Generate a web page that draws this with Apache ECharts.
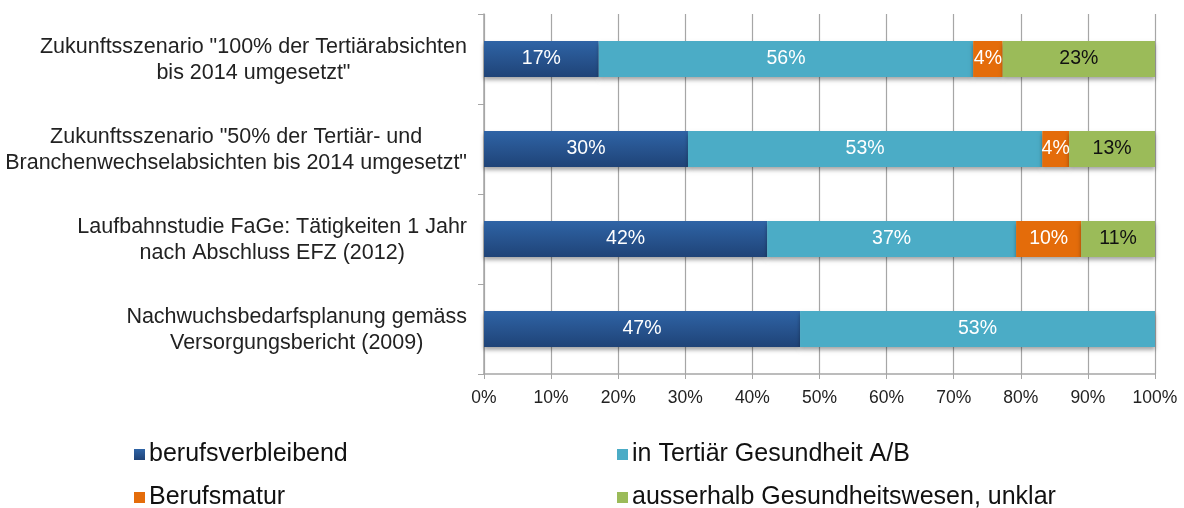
<!DOCTYPE html>
<html>
<head>
<meta charset="utf-8">
<script src="https://cdn.jsdelivr.net/npm/echarts@6/dist/echarts.min.js"></script>
<style>
  html, body { margin: 0; padding: 0; background: #fff; }
  #main { width: 1184px; height: 508px; }
</style>
</head>
<body>
<div id="main"></div>
<script>
// categories, top to bottom
var categories = [
    'Zukunftsszenario "100% der Tertiärabsichten\nbis 2014 umgesetzt"',
    'Zukunftsszenario "50% der Tertiär- und\nBranchenwechselabsichten bis 2014 umgesetzt"',
    'Laufbahnstudie FaGe: Tätigkeiten 1 Jahr\nnach Abschluss EFZ (2012)',
    'Nachwuchsbedarfsplanung gemäss\nVersorgungsbericht (2009)'
];
var seriesNames = ['berufsverbleibend', 'in Tertiär Gesundheit A/B', 'Berufsmatur', 'ausserhalb Gesundheitswesen, unklar'];
var berufsverbleibend = [17.1, 30.4, 42.2, 47.1];
var tertiaer = [55.8, 52.8, 37.1, 52.9];
var berufsmatur = [4.4, 4.0, 9.7, null];
var ausserhalb = [22.7, 12.8, 11.0, null];
var xTicks = [0, 10, 20, 30, 40, 50, 60, 70, 80, 90, 100];

var fontFam = '"Liberation Sans", Arial, sans-serif';
var barShadow = {shadowBlur: 4, shadowOffsetY: 3, shadowColor: 'rgba(0,0,0,0.35)'};

function makeSeries(name, data, color, labelColor) {
    return {
        name: name,
        type: 'bar',
        stack: 'total',
        barWidth: '40%',
        data: data,
        itemStyle: Object.assign({color: color}, barShadow),
        label: {
            show: true,
            position: 'inside',
            color: labelColor,
            fontSize: 19.5,
            fontFamily: fontFam,
            formatter: function (p) {
                return p.value ? Math.round(p.value) + '%' : '';
            }
        }
    };
}

var blueGrad = new echarts.graphic.LinearGradient(0, 0, 0, 1, [
    {offset: 0, color: '#2f64a6'},
    {offset: 1, color: '#1f4377'}
]);

function legendAt(name, left, top) {
    return {
        data: [name],
        left: left,
        top: top,
        icon: 'rect',
        itemWidth: 11,
        itemHeight: 11,
        itemGap: 0,
        textStyle: {fontSize: 25, fontFamily: fontFam, color: '#111', padding: [0, 0, 0, -1]}
    };
}

let myChart = echarts.init(document.getElementById('main'));
myChart.setOption({
    animation: false,
    legend: [
        legendAt(seriesNames[0], 129, 437),
        legendAt(seriesNames[1], 612, 437),
        legendAt(seriesNames[2], 129, 480),
        legendAt(seriesNames[3], 612, 480)
    ],
    grid: {left: 484, right: 29, top: 14, bottom: 134},
    xAxis: {
        type: 'value',
        min: 0,
        max: 100,
        interval: 10,
        axisLine: {show: true, lineStyle: {color: '#a6a6a6', width: 1.5}},
        axisTick: {show: true, length: 5, lineStyle: {color: '#a6a6a6'}},
        splitLine: {show: true, lineStyle: {color: '#a6a6a6', width: 1.2}},
        axisLabel: {
            formatter: '{value}%',
            fontSize: 17.5,
            fontFamily: fontFam,
            color: '#222',
            margin: 15
        }
    },
    yAxis: {
        type: 'category',
        inverse: true,
        data: categories,
        axisLine: {show: true, lineStyle: {color: '#a6a6a6', width: 1.5}},
        axisTick: {show: true, length: 6, lineStyle: {color: '#a6a6a6'}},
        axisLabel: {
            margin: 17,
            formatter: function (v) {
                return v.split('\n').map(function (s) { return '{c|' + s + '}'; }).join('\n');
            },
            rich: {
                c: {
                    align: 'center',
                    fontSize: 21.5,
                    lineHeight: 26,
                    fontFamily: fontFam,
                    color: '#222',
                    padding: [3, 0, 0, 0]
                }
            }
        }
    },
    series: [
        makeSeries(seriesNames[0], berufsverbleibend, blueGrad, '#fff'),
        makeSeries(seriesNames[1], tertiaer, '#4bacc6', '#fff'),
        makeSeries(seriesNames[2], berufsmatur, '#e46c0a', '#fff'),
        makeSeries(seriesNames[3], ausserhalb, '#9bbb59', '#111')
    ]
});
</script>
</body>
</html>
